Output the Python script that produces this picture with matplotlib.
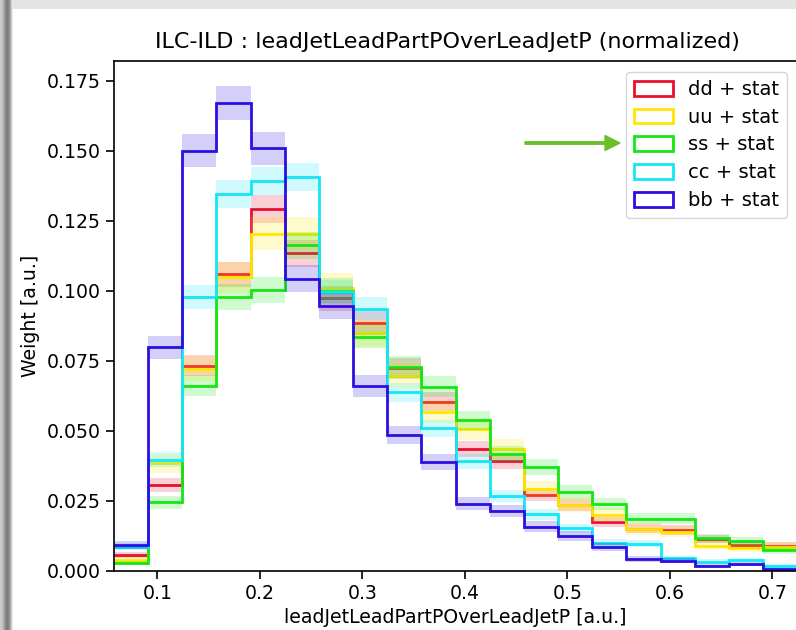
import numpy as np
import matplotlib.pyplot as plt
from matplotlib.patches import Patch, FancyArrow

# ---------------------------------------------------------------------------
# histogram content (normalized weights per bin)
# ---------------------------------------------------------------------------
edges = np.linspace(0.0577, 0.7244, 21)

dd = [0.0055, 0.0305, 0.0732, 0.1058, 0.1292, 0.1133, 0.0972, 0.0884, 0.0722, 0.0603,
      0.0434, 0.0392, 0.0270, 0.0233, 0.0174, 0.0150, 0.0145, 0.0112, 0.0091, 0.0088]
uu = [0.0037, 0.0383, 0.0721, 0.1047, 0.1203, 0.1203, 0.1008, 0.0847, 0.0695, 0.0567,
      0.0505, 0.0433, 0.0291, 0.0235, 0.0198, 0.0149, 0.0139, 0.0088, 0.0080, 0.0085]
ss = [0.0026, 0.0244, 0.0660, 0.0977, 0.1002, 0.1161, 0.1000, 0.0835, 0.0728, 0.0657,
      0.0537, 0.0416, 0.0369, 0.0280, 0.0237, 0.0185, 0.0185, 0.0115, 0.0104, 0.0073]
cc = [0.0085, 0.0395, 0.0978, 0.1346, 0.1390, 0.1405, 0.0994, 0.0935, 0.0637, 0.0508,
      0.0391, 0.0266, 0.0201, 0.0151, 0.0100, 0.0096, 0.0044, 0.0032, 0.0037, 0.0017]
bb = [0.0091, 0.0797, 0.1500, 0.1669, 0.1508, 0.1042, 0.0945, 0.0659, 0.0484, 0.0387,
      0.0238, 0.0212, 0.0157, 0.0123, 0.0085, 0.0041, 0.0035, 0.0017, 0.0022, 0.0005]

# effective number of events per sample (sets the stat band width)
n_events = {'dd': 5100, 'uu': 3460, 'ss': 4750, 'cc': 5500, 'bb': 4450}

samples = ['dd', 'uu', 'ss', 'cc', 'bb']
values = {'dd': dd, 'uu': uu, 'ss': ss, 'cc': cc, 'bb': bb}
colors = {'dd': '#e8102e', 'uu': '#ffe600', 'ss': '#14e614',
          'cc': '#14e6f5', 'bb': '#2b0fe0'}

# ---------------------------------------------------------------------------
# plot
# ---------------------------------------------------------------------------
plt.rcParams['font.family'] = 'DejaVu Sans'
plt.rcParams['font.size'] = 13.6

fig = plt.figure(figsize=(7.96, 6.30), dpi=100)
W, H = 796, 630
ax = fig.add_axes([114 / W, (H - 570.5) / H, (797.3 - 114) / W, (570.5 - 61) / H])

centers = 0.5 * (edges[:-1] + edges[1:])
width = edges[1] - edges[0]

for s in samples:
    v = np.array(values[s])
    err = np.sqrt(v / n_events[s])
    ax.bar(centers, 2 * err, width=width, bottom=v - err, color=colors[s],
           alpha=0.2, linewidth=0)
    ax.stairs(v, edges, baseline=None, color=colors[s], linewidth=2)

ax.set_xlim(edges[0], edges[-1])
ax.set_ylim(0, 0.182)
ax.set_xticks([0.1, 0.2, 0.3, 0.4, 0.5, 0.6, 0.7])
ax.set_yticks([0.0, 0.025, 0.05, 0.075, 0.1, 0.125, 0.15, 0.175])
ax.yaxis.set_major_formatter(plt.FormatStrFormatter('%.3f'))
ax.tick_params(length=6, width=1.2)
for sp in ax.spines.values():
    sp.set_linewidth(1.2)

ax.set_xlabel('leadJetLeadPartPOverLeadJetP [a.u.]')
ax.set_ylabel('Weight [a.u.]', labelpad=5)
ax.set_title('ILC-ILD : leadJetLeadPartPOverLeadJetP (normalized)', fontsize=16,
             pad=9, x=0.488)

handles = [Patch(facecolor='white', edgecolor=colors[s], linewidth=2) for s in samples]
labels = [s + ' + stat' for s in samples]
ax.legend(handles, labels, loc='upper right', bbox_to_anchor=(0.985, 0.978),
          borderaxespad=0, fontsize=14, handlelength=2.0, handleheight=0.8,
          labelspacing=0.45)

# green arrow pointing at the ss entry
fig.patches.append(FancyArrow(
    525 / W, (H - 143) / H, 80 / W, 0, width=2.5 / H, head_width=15 / H,
    head_length=15 / W, length_includes_head=False, color='#6bbf2b',
    transform=fig.transFigure, figure=fig))

# screenshot frame: shaded left edge and light top band
left = fig.add_axes([0, 0, 13 / W, 1])
grad = np.array([[0.80, 0.78, 0.74, 0.68, 0.60, 0.52, 0.48, 0.50, 0.55, 0.65, 0.80, 0.92, 1.0]])
left.imshow(grad, cmap='gray', vmin=0, vmax=1, aspect='auto', extent=(0, 1, 0, 1))
left.axis('off')
top = fig.add_axes([13 / W, (H - 9) / H, 1, 9 / H])
top.axis('off')
top.add_patch(plt.Rectangle((0, 0), 1, 1, color='#e4e4e4', transform=top.transAxes))

fig.savefig('out.png', dpi=100)
